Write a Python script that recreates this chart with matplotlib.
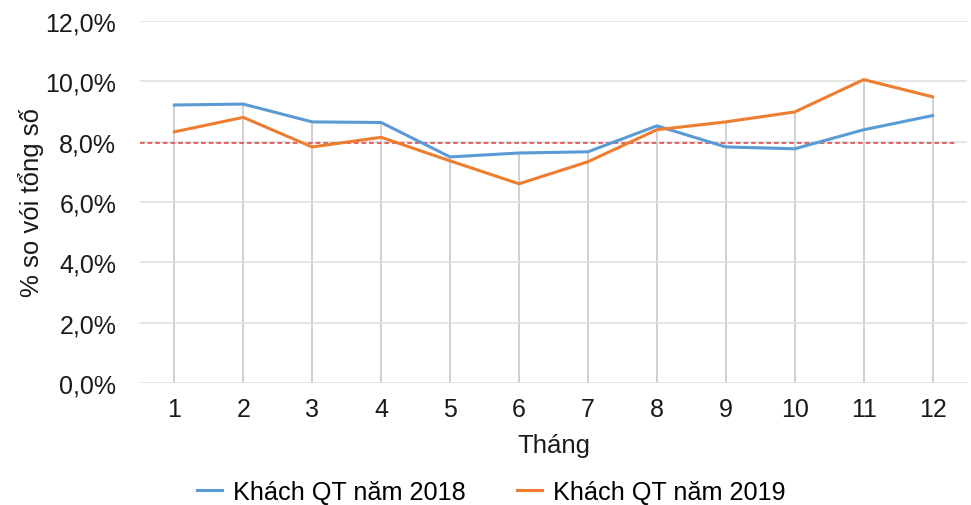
"""Monthly share of international visitors, 2018 vs 2019."""

import matplotlib
matplotlib.use('Agg')
import matplotlib.pyplot as plt
from matplotlib.ticker import FuncFormatter
import numpy as np

plt.rcParams['font.family'] = ['Liberation Sans', 'DejaVu Sans']

# data (percent of yearly total)
months = [1, 2, 3, 4, 5, 6, 7, 8, 9, 10, 11, 12]
khach_2018 = [9.21, 9.24, 8.65, 8.63, 7.49, 7.62, 7.66, 8.52, 7.82, 7.76, 8.39, 8.86]
khach_2019 = [8.32, 8.80, 7.82, 8.14, 7.36, 6.60, 7.33, 8.39, 8.65, 8.98, 10.05, 9.48]
ref_level = 7.95

BLUE = '#5B9BD5'
ORANGE = '#ED7D31'
RED = '#E03A3A'
GRID = '#DEDEDE'
DROP = '#C4C4C4'
TEXT = '#1a1a1a'

fig = plt.figure(figsize=(9.71, 5.06), dpi=100)
ax = fig.add_axes([0.144, 0.241, 0.852, 0.716])

# horizontal gridlines
ax.set_yticks(np.arange(0, 12.1, 2))
ax.grid(axis='y', color=GRID, linewidth=1.1, zorder=0)

# drop lines from axis to the higher series
top = np.maximum(khach_2018, khach_2019)
ax.vlines(months, 0, top, color=DROP, linewidth=1.1, zorder=1)

ax.axhline(ref_level, xmin=0.0, xmax=0.985, color=RED, linestyle=(0, (3, 2)),
           linewidth=1.1, zorder=2)

ax.plot(months, khach_2018, color=BLUE, linewidth=2.2, label='Khách QT năm 2018', zorder=3)
ax.plot(months, khach_2019, color=ORANGE, linewidth=2.2, label='Khách QT năm 2019', zorder=4)

ax.set_xlim(0.5, 12.5)
ax.set_ylim(0, 12)
ax.set_xticks(months)
ax.yaxis.set_major_formatter(FuncFormatter(lambda v, _: f'{v:.1f}%'.replace('.', ',')))

for s in ax.spines.values():
    s.set_visible(False)
ax.tick_params(axis='both', length=0, labelsize=18, colors=TEXT)
ax.tick_params(axis='y', pad=17)
ax.tick_params(axis='x', pad=10)

ax.set_xlabel('Tháng', fontsize=18.5, color=TEXT, labelpad=9)
ax.set_ylabel('% so vói tổng số', fontsize=18.5, color=TEXT, labelpad=1)

fig.legend(loc='center', bbox_to_anchor=(0.506, 0.026), ncol=2, frameon=False,
           fontsize=18.2, handlelength=1.0, handletextpad=0.45, columnspacing=2.0)

plt.savefig('out.png', dpi=100, facecolor='white')
